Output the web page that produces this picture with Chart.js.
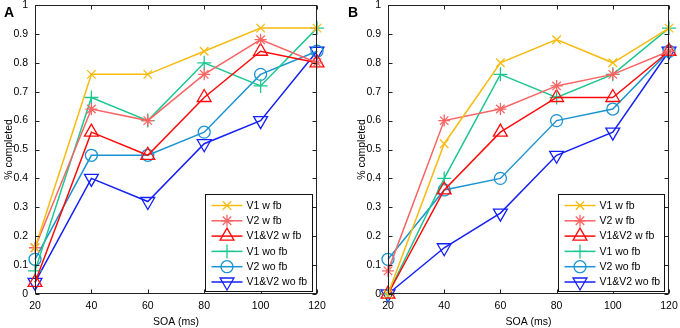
<!DOCTYPE html>
<html><head><meta charset="utf-8">
<script src="https://cdn.jsdelivr.net/npm/chart.js@4/dist/chart.umd.min.js"></script>
<style>
html,body{margin:0;padding:0;background:#fff;}
#wrap{position:relative;width:680px;height:328px;overflow:hidden;}
.panel{position:absolute;top:0;width:340px;height:328px;}
.lab{position:absolute;font:bold 14px "Liberation Sans",Arial,sans-serif;color:#000;line-height:1;}
</style></head><body>
<div id="wrap">
<div class="panel" style="left:0"><canvas id="cA" width="340" height="328"></canvas></div>
<div class="panel" style="left:340px"><canvas id="cB" width="340" height="328"></canvas></div>
<div class="lab" style="left:4px;top:5px">A</div>
<div class="lab" style="left:348px;top:5px">B</div>
</div>
<script>
// ---- data ----
const soa = [20, 40, 60, 80, 100, 120];
const xTickLabels = ['20', '40', '60', '80', '100', '120'];
const yTickLabels = ['0', '0.1', '0.2', '0.3', '0.4', '0.5', '0.6', '0.7', '0.8', '0.9', '1'];
const seriesNames = ['V1 w fb', 'V2 w fb', 'V1&V2 w fb', 'V1 wo fb', 'V2 wo fb', 'V1&V2 wo fb'];

// Panel A
const A_V1wfb   = [0.16, 0.76, 0.76, 0.84, 0.92, 0.92];
const A_V2wfb   = [0.16, 0.64, 0.60, 0.76, 0.88, 0.80];
const A_V12wfb  = [0.04, 0.56, 0.48, 0.68, 0.84, 0.80];
const A_V1wofb  = [0.08, 0.68, 0.60, 0.80, 0.72, 0.92];
const A_V2wofb  = [0.12, 0.48, 0.48, 0.56, 0.76, 0.84];
const A_V12wofb = [0.04, 0.40, 0.32, 0.52, 0.60, 0.84];

// Panel B
const B_V1wfb   = [0.00, 0.52, 0.80, 0.88, 0.80, 0.92];
const B_V2wfb   = [0.08, 0.60, 0.64, 0.72, 0.76, 0.84];
const B_V12wfb  = [0.00, 0.36, 0.56, 0.68, 0.68, 0.84];
const B_V1wofb  = [0.00, 0.40, 0.76, 0.68, 0.76, 0.92];
const B_V2wofb  = [0.12, 0.36, 0.40, 0.60, 0.64, 0.84];
const B_V12wofb = [0.00, 0.16, 0.28, 0.48, 0.56, 0.84];

// ---- styles ----
const colors = ['#f7bb12', '#f86464', '#ff0a0a', '#1cc690', '#1a94d0', '#1420f5'];
const markers = [
  {pointStyle: 'crossRot', radius: 6, rotation: 0},
  {pointStyle: 'star', radius: 6, rotation: 0},
  {pointStyle: 'triangle', radius: 8, rotation: 0},
  {pointStyle: 'cross', radius: 7, rotation: 0},
  {pointStyle: 'circle', radius: 6, rotation: 0},
  {pointStyle: 'triangle', radius: 8, rotation: 180}
];
const FONT = '"Liberation Sans", Arial, sans-serif';
const FS = 10.5;

function makeDatasets(seriesList) {
  return seriesList.map((vals, i) => ({
    label: seriesNames[i],
    data: soa.map((x, j) => ({x: x, y: vals[j]})),
    borderColor: colors[i],
    backgroundColor: 'rgba(0,0,0,0)',
    borderWidth: 1.5,
    pointStyle: markers[i].pointStyle,
    pointRadius: markers[i].radius,
    pointRotation: markers[i].rotation,
    pointBorderWidth: 1.3,
    pointBorderColor: colors[i],
    pointBackgroundColor: 'rgba(0,0,0,0)',
    pointHoverRadius: markers[i].radius,
    tension: 0,
    clip: false
  }));
}

const boxPlugin = {
  id: 'boxPlugin',
  afterDatasetsDraw(chart) {
    const ctx = chart.ctx;
    const {left, right, top, bottom} = chart.chartArea;
    const xs = chart.scales.x, ys = chart.scales.y;
    ctx.save();
    ctx.strokeStyle = '#222';
    ctx.lineWidth = 1;
    const L = Math.round(left) + 0.5, R = Math.round(right) - 0.5;
    const T = Math.round(top) + 0.5, B = Math.round(bottom) - 0.5;
    ctx.strokeRect(L, T, R - L, B - T);
    ctx.beginPath();
    soa.forEach(v => {
      const px = Math.round(xs.getPixelForValue(v)) + 0.5;
      ctx.moveTo(px, B); ctx.lineTo(px, B - 4);
      ctx.moveTo(px, T); ctx.lineTo(px, T + 4);
    });
    yTickLabels.forEach((s, i) => {
      const py = Math.round(ys.getPixelForValue(i / 10)) + 0.5;
      ctx.moveTo(L, py); ctx.lineTo(L + 4, py);
      ctx.moveTo(R, py); ctx.lineTo(R - 4, py);
    });
    ctx.stroke();

    // legend
    const opt = chart.options.plugins.boxPlugin;
    const lw = opt.width, lh = 97;
    const lx = Math.round(right - opt.rightGap - lw) + 0.5;
    const ly = Math.round(bottom - 3 - lh) + 0.5;
    ctx.fillStyle = '#fff';
    ctx.fillRect(lx, ly, lw, lh);
    ctx.strokeStyle = '#111';
    ctx.strokeRect(lx, ly, lw, lh);
    chart.data.datasets.forEach((ds, i) => {
      const cy = ly + 11 + i * 15.3;
      ctx.strokeStyle = ds.borderColor;
      ctx.lineWidth = 1.5;
      ctx.beginPath();
      ctx.moveTo(lx + 6, cy); ctx.lineTo(lx + 37, cy);
      ctx.stroke();
      ctx.fillStyle = 'rgba(0,0,0,0)';
      ctx.lineWidth = 1.3;
      Chart.helpers.drawPoint(ctx, {
        pointStyle: ds.pointStyle, radius: ds.pointRadius,
        rotation: ds.pointRotation, borderWidth: 1.3
      }, lx + 21.5, cy);
      ctx.fillStyle = '#000';
      ctx.font = FS + 'px ' + FONT;
      ctx.textBaseline = 'middle';
      ctx.textAlign = 'left';
      ctx.fillText(ds.label, lx + 41, cy + 0.5);
    });
    ctx.restore();
  }
};

function makeChart(id, seriesList, pad, legendWidth, rightGap) {
  return new Chart(document.getElementById(id), {
    type: 'line',
    data: {datasets: makeDatasets(seriesList)},
    plugins: [boxPlugin],
    options: {
      responsive: false,
      animation: false,
      events: [],
      layout: {padding: pad, autoPadding: false},
      plugins: {
        legend: {display: false},
        tooltip: {enabled: false},
        boxPlugin: {width: legendWidth, rightGap: rightGap}
      },
      scales: {
        x: {
          type: 'linear', min: 20, max: 120,
          afterBuildTicks: s => { s.ticks = soa.map(v => ({value: v})); },
          afterFit: s => { s.height = 34; s.paddingLeft = 0; s.paddingRight = 0; },
          ticks: {
            callback: (v, i) => xTickLabels[i],
            font: {family: FONT, size: FS}, color: '#000', padding: 6,
            maxRotation: 0, autoSkip: false
          },
          grid: {display: false, drawTicks: false},
          border: {display: false},
          title: {display: true, text: 'SOA (ms)', font: {family: FONT, size: FS}, color: '#000', padding: {top: 2, bottom: 0}}
        },
        y: {
          type: 'linear', min: 0, max: 1,
          afterBuildTicks: s => { s.ticks = yTickLabels.map((t, i) => ({value: i / 10})); },
          afterFit: s => { s.width = 35; s.paddingTop = 0; s.paddingBottom = 0; },
          ticks: {
            callback: (v, i) => yTickLabels[i],
            font: {family: FONT, size: FS, lineHeight: 0.9}, color: '#000', padding: 0, autoSkip: false
          },
          grid: {display: false, drawTicks: true, tickLength: 7, tickColor: 'rgba(0,0,0,0)'},
          border: {display: false},
          title: {display: true, text: '% completed', font: {family: FONT, size: FS}, color: '#000', padding: {top: 3, bottom: 0}}
        }
      }
    }
  });
}

makeChart('cA', [A_V1wfb, A_V2wfb, A_V12wfb, A_V1wofb, A_V2wofb, A_V12wofb],
  {left: 0, right: 23, top: 5, bottom: 0}, 107, 5);
makeChart('cB', [B_V1wfb, B_V2wfb, B_V12wfb, B_V1wofb, B_V2wofb, B_V12wofb],
  {left: 13, right: 11, top: 5, bottom: 0}, 106, 5);
</script>
</body></html>
